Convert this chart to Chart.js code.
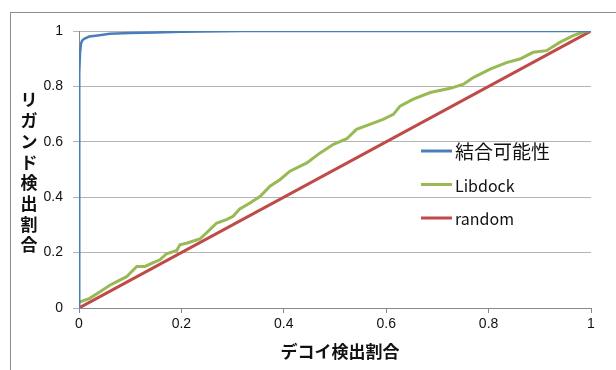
<!DOCTYPE html>
<html>
<head>
<meta charset="utf-8">
<script src="https://cdn.jsdelivr.net/npm/chart.js@4/dist/chart.umd.min.js"></script>
<style>
  html, body { margin: 0; padding: 0; background: #fff; }
  #wrap { width: 616px; height: 370px; }
</style>
</head>
<body>
<div id="wrap"><canvas id="c" width="616" height="370"></canvas></div>
<script>
// series labels
const seriesNames = ['結合可能性', 'Libdock', 'random'];
const xTitle = 'デコイ検出割合';
const yTitle = 'リガンド検出割合';

// 結合可能性 (blue) - decoy ratio / ligand ratio
const bindX = [0, 0, 0.001, 0.002, 0.004, 0.006, 0.01, 0.02, 0.04, 0.06, 0.1, 0.15, 0.2, 0.32, 1];
const bindY = [0, 0.65, 0.85, 0.92, 0.955, 0.965, 0.972, 0.98, 0.985, 0.99, 0.993, 0.995, 0.997, 1, 1];

// Libdock (green)
const dockX = [0, 0.002, 0.021, 0.041, 0.061, 0.074, 0.093, 0.103, 0.113, 0.129, 0.145, 0.158, 0.171,
  0.191, 0.197, 0.21, 0.236, 0.249, 0.269, 0.288, 0.301, 0.314, 0.334, 0.354, 0.373, 0.393, 0.412,
  0.445, 0.471, 0.497, 0.523, 0.542, 0.568, 0.594, 0.614, 0.627, 0.653, 0.686, 0.725, 0.751, 0.77,
  0.803, 0.835, 0.861, 0.887, 0.913, 0.939, 0.965, 0.99, 1.0];
const dockY = [0.02, 0.022, 0.035, 0.059, 0.083, 0.095, 0.113, 0.132, 0.15, 0.15, 0.164, 0.174, 0.196,
  0.208, 0.228, 0.234, 0.249, 0.271, 0.307, 0.319, 0.331, 0.358, 0.379, 0.403, 0.44, 0.464, 0.494,
  0.524, 0.56, 0.591, 0.611, 0.645, 0.663, 0.681, 0.699, 0.729, 0.754, 0.778, 0.793, 0.808, 0.832,
  0.862, 0.886, 0.899, 0.923, 0.929, 0.959, 0.983, 1.0, 1.0];

// random (red)
const randX = [0, 1];
const randY = [0, 1];

const colors = ['#4a7ebb', '#98b954', '#be4b48'];

function toPoints(xs, ys) {
  return xs.map((x, i) => ({ x: x, y: ys[i] }));
}

const tickFont = { family: '"Liberation Sans", Arial, sans-serif', size: 14 };
const fmt = (v) => String(Number(v.toFixed(1)));

// frame, axis titles and the legend are drawn here
const extras = {
  id: 'extras',
  beforeDraw(chart) {
    const ctx = chart.ctx;
    ctx.save();
    ctx.strokeStyle = '#8c8c8c';
    ctx.lineWidth = 1;
    ctx.strokeRect(10.5, 12.5, 700, 500);
    ctx.restore();
  },
  afterDraw(chart) {
    const ctx = chart.ctx;
    ctx.save();
    ctx.fillStyle = '#111';
    ctx.font = 'bold 17px "Noto Sans CJK JP", sans-serif';
    ctx.textAlign = 'center';
    ctx.textBaseline = 'middle';
    ctx.fillText(xTitle, 340, 352);

    const chars = Array.from(yTitle);
    chars.forEach((ch, i) => {
      ctx.fillText(ch, 29, 100 + i * 20.7);
    });

    // legend
    ctx.textAlign = 'left';
    const rowsY = [151, 184.5, 218];
    chart.data.datasets.forEach((ds, i) => {
      ctx.strokeStyle = ds.borderColor;
      ctx.lineWidth = 3;
      ctx.beginPath();
      ctx.moveTo(421, rowsY[i]);
      ctx.lineTo(452, rowsY[i]);
      ctx.stroke();
      ctx.fillStyle = '#111';
      const cjk = /[^\x00-\x7f]/.test(ds.label);
      ctx.font = (cjk ? '19px' : '16px') + ' "Noto Sans CJK JP", sans-serif';
      ctx.fillText(ds.label, 455, rowsY[i] + 1);
    });
    ctx.restore();
  }
};

new Chart(document.getElementById('c'), {
  type: 'line',
  data: {
    datasets: [
      { label: seriesNames[0], data: toPoints(bindX, bindY), borderColor: colors[0], borderWidth: 2.5 },
      { label: seriesNames[1], data: toPoints(dockX, dockY), borderColor: colors[1], borderWidth: 3 },
      { label: seriesNames[2], data: toPoints(randX, randY), borderColor: colors[2], borderWidth: 3 }
    ]
  },
  options: {
    responsive: false,
    animation: false,
    elements: { point: { radius: 0 }, line: { tension: 0 } },
    layout: { padding: { left: 0, top: 31, right: 25, bottom: 0 } },
    plugins: { legend: { display: false }, tooltip: { enabled: false } },
    scales: {
      x: {
        type: 'linear',
        min: 0,
        max: 1,
        afterFit: (s) => { s.height = 62; },
        ticks: { stepSize: 0.2, color: '#111', font: tickFont, padding: 3, maxRotation: 0, callback: fmt },
        grid: { drawOnChartArea: false, drawTicks: true, tickLength: 5, color: '#888' },
        border: { color: '#888' }
      },
      y: {
        type: 'linear',
        min: 0,
        max: 1,
        afterFit: (s) => { s.width = 79; },
        ticks: { stepSize: 0.2, color: '#111', font: tickFont, padding: 10, callback: fmt },
        grid: { color: '#b4b4b4', tickLength: 6 },
        border: { color: '#888' }
      }
    }
  },
  plugins: [extras]
});
</script>
</body>
</html>
